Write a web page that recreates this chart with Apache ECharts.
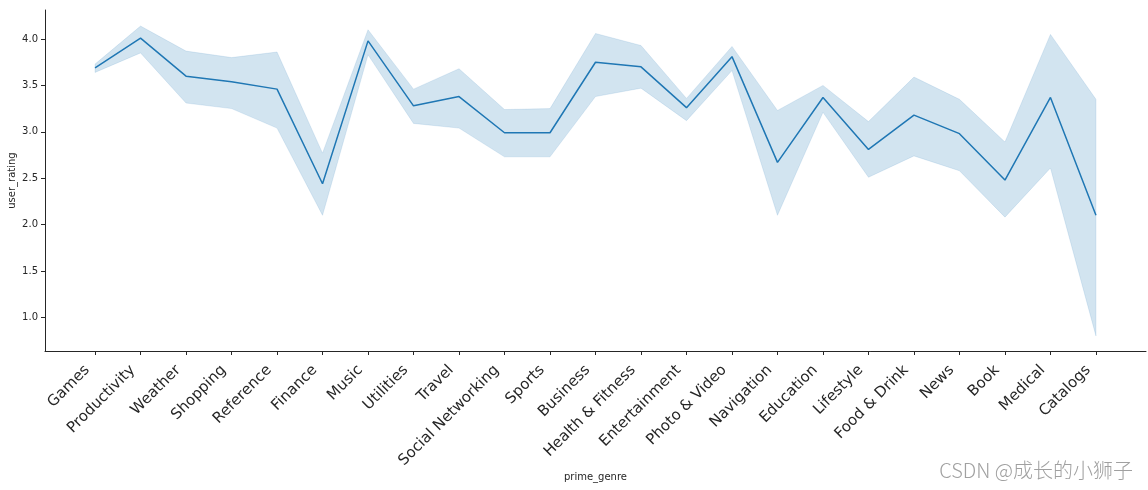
<!DOCTYPE html>
<html>
<head>
<meta charset="utf-8">
<script src="https://cdn.jsdelivr.net/npm/echarts@6/dist/echarts.min.js"></script>
<style>
  html, body { margin: 0; padding: 0; background: #fff; }
  #chart { width: 1148px; height: 490px; }
</style>
</head>
<body>
<div id="chart"></div>
<script>
// 类别（prime_genre）
var genres = ['Games', 'Productivity', 'Weather', 'Shopping', 'Reference', 'Finance', 'Music',
  'Utilities', 'Travel', 'Social Networking', 'Sports', 'Business', 'Health & Fitness',
  'Entertainment', 'Photo & Video', 'Navigation', 'Education', 'Lifestyle', 'Food & Drink',
  'News', 'Book', 'Medical', 'Catalogs']
// 平均评分
var meanRating = [3.69, 4.01, 3.60, 3.54, 3.46, 2.44, 3.98,
  3.28, 3.38, 2.99, 2.99, 3.75, 3.70,
  3.26, 3.81, 2.67, 3.37, 2.81, 3.18,
  2.98, 2.48, 3.37, 2.10]
// 置信区间上下界
var ciUpper = [3.73, 4.14, 3.87, 3.80, 3.86, 2.77, 4.10,
  3.46, 3.68, 3.24, 3.25, 4.06, 3.93,
  3.36, 3.92, 3.23, 3.50, 3.11, 3.59,
  3.35, 2.89, 4.05, 3.35]
var ciLower = [3.64, 3.85, 3.31, 3.25, 3.04, 2.10, 3.83,
  3.09, 3.04, 2.73, 2.73, 3.38, 3.47,
  3.12, 3.66, 2.10, 3.21, 2.51, 2.74,
  2.58, 2.08, 2.61, 0.80]
var yTicks = [1.0, 1.5, 2.0, 2.5, 3.0, 3.5, 4.0]

var idx = genres.map(function (g, i) { return i })
var textColor = '#262626'

// 置信区间带：用多边形画出 上界 -> 下界（反向）
function renderBand (params, api) {
  var pts = []
  for (var i = 0; i < ciUpper.length; i++) {
    pts.push(api.coord([i, ciUpper[i]]))
  }
  for (var j = ciLower.length - 1; j >= 0; j--) {
    pts.push(api.coord([j, ciLower[j]]))
  }
  return {
    type: 'polygon',
    shape: { points: pts },
    style: { fill: 'rgba(31,119,180,0.2)', stroke: 'rgba(31,119,180,0.12)', lineWidth: 1 }
  }
}

var myChart = echarts.init(document.getElementById('chart'))
var option = {
  animation: false,
  grid: { left: 45, right: 2, top: 10, bottom: 139, containLabel: false, outerBoundsMode: 'none' },
  xAxis: {
    type: 'value',
    min: -1.1,
    max: genres.length - 1 + 1.1,
    name: 'prime_genre',
    nameLocation: 'middle',
    nameGap: 121,
    nameMoveOverlap: false,
    nameTextStyle: { color: textColor, fontSize: 10, fontFamily: 'DejaVu Sans' },
    axisLine: { show: true, onZero: false, lineStyle: { color: '#262626', width: 1 } },
    axisTick: { show: true, length: 4, customValues: idx, lineStyle: { color: '#262626' } },
    axisLabel: {
      customValues: idx,
      rotate: 45,
      margin: 9,
      padding: [0, 11, 0, 0],
      color: textColor,
      fontSize: 15,
      fontFamily: 'DejaVu Sans',
      formatter: function (v) { return genres[v] }
    },
    splitLine: { show: false }
  },
  yAxis: {
    type: 'value',
    min: 0.637,
    max: 4.313,
    name: 'user_rating',
    nameLocation: 'middle',
    nameRotate: 90,
    nameGap: 28,
    nameMoveOverlap: false,
    nameTextStyle: { color: textColor, fontSize: 10, fontFamily: 'DejaVu Sans' },
    axisLine: { show: true, onZero: false, lineStyle: { color: '#262626', width: 1 } },
    axisTick: { show: true, length: 4, customValues: yTicks, lineStyle: { color: '#262626' } },
    axisLabel: {
      customValues: yTicks,
      margin: 7,
      color: textColor,
      fontSize: 10,
      fontFamily: 'DejaVu Sans',
      formatter: function (v) { return v.toFixed(1) }
    },
    splitLine: { show: false }
  },
  series: [
    {
      type: 'custom',
      renderItem: renderBand,
      data: [[0, ciLower[0]]],
      silent: true,
      z: 1
    },
    {
      type: 'line',
      symbol: 'none',
      lineStyle: { color: '#1f77b4', width: 1.5 },
      data: meanRating.map(function (v, i) { return [i, v] }),
      z: 2
    }
  ],
  graphic: [
    {
      type: 'text',
      right: 15,
      top: 460,
      style: {
        text: 'CSDN @成长的小狮子',
        fill: '#a0a0a0',
        font: '300 20px "Noto Sans CJK SC", "DejaVu Sans", sans-serif'
      }
    }
  ]
}
myChart.setOption(option)
</script>
</body>
</html>
